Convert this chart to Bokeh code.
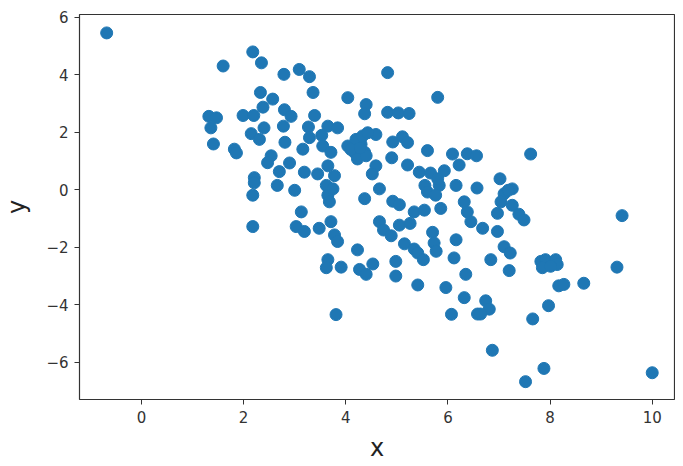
from bokeh.plotting import figure
from bokeh.models import Range1d, FixedTicker
from bokeh.embed import file_html
from bokeh.resources import INLINE

# Data
x_vals = [
    -0.68, 2.18, 2.35, 1.60, 2.79, 3.09, 3.29, 3.36, 2.33, 2.57,
    4.04, 4.40, 4.37, 2.38, 2.80, 2.93, 3.39, 1.32, 1.47, 1.99,
    2.20, 1.36, 2.40, 2.78, 3.27, 3.65, 3.84, 2.15, 2.31, 3.29,
    3.53, 2.81, 1.41, 1.82, 1.86, 3.16, 3.55, 3.71, 4.04, 4.17,
    4.30, 4.37, 4.23, 2.54, 2.47, 2.90, 2.70, 3.19, 3.45, 3.65,
    3.78, 2.21, 2.21, 2.66, 3.00, 3.62, 3.65, 3.68, 2.18, 4.37,
    3.13, 2.18, 4.82, 5.80, 4.82, 5.03, 5.24, 4.20, 4.33, 4.59,
    4.43, 4.92, 5.11, 5.21, 4.40, 4.90, 5.21, 5.60, 5.44, 5.66,
    5.93, 6.09, 6.22, 6.38, 6.56, 7.62, 4.59, 4.52, 4.66, 3.75,
    4.92, 5.05, 5.55, 5.60, 5.83, 5.76, 6.16, 6.57, 5.80, 7.02,
    7.26, 7.10, 7.04, 6.32, 6.38, 6.45, 5.86, 7.26, 7.39, 7.49,
    6.97, 5.34, 5.54, 4.66, 4.74, 5.05, 5.26, 4.89, 5.70, 6.68,
    6.97, 6.16, 5.15, 5.34, 5.41, 5.73, 5.77, 7.10, 7.22, 5.52,
    6.12, 6.35, 5.96, 6.32, 6.07, 6.58, 4.23, 3.65, 3.62, 3.91,
    4.27, 4.40, 4.53, 4.98, 4.98, 5.41, 3.81, 3.03, 3.19, 3.48,
    3.71, 3.78, 3.84, 9.41, 9.31, 10.00, 6.84, 7.20, 7.82, 7.91,
    8.11, 8.14, 7.85, 8.01, 8.17, 8.27, 8.66, 6.74, 6.81, 6.64,
    7.97, 7.66, 6.87, 7.88, 7.52, 7.18, 4.10, 4.28,
]
y_vals = [
    5.45, 4.79, 4.41, 4.30, 4.01, 4.18, 3.93, 3.38, 3.38, 3.15,
    3.20, 2.96, 2.64, 2.87, 2.78, 2.55, 2.58, 2.55, 2.50, 2.58,
    2.58, 2.15, 2.15, 2.21, 2.18, 2.21, 2.15, 1.95, 1.75, 1.81,
    1.89, 1.65, 1.59, 1.41, 1.28, 1.41, 1.52, 1.30, 1.52, 1.30,
    1.58, 1.30, 1.07, 1.18, 0.94, 0.93, 0.63, 0.61, 0.55, 0.83,
    0.49, 0.42, 0.24, 0.15, -0.02, 0.15, -0.19, -0.42, -0.19, -0.31,
    -0.77, -1.28, 4.07, 3.21, 2.69, 2.67, 2.65, 1.75, 1.87, 1.92,
    1.98, 1.66, 1.84, 1.64, 1.18, 1.11, 0.86, 1.36, 0.61, 0.58,
    0.66, 1.24, 0.86, 1.25, 1.18, 1.24, 0.83, 0.55, 0.03, 0.03,
    -0.40, -0.52, 0.15, -0.08, 0.15, -0.19, 0.15, 0.06, 0.38, 0.38,
    0.03, -0.14, -0.42, -0.42, -0.77, -1.11, -0.65, -0.54, -0.85, -1.05,
    -0.82, -0.77, -0.71, -1.11, -1.40, -1.23, -1.17, -1.60, -1.48, -1.34,
    -1.45, -1.74, -1.88, -2.06, -2.20, -1.85, -2.14, -1.98, -2.20, -2.43,
    -2.37, -2.94, -3.40, -3.75, -4.33, -4.32, -2.09, -2.43, -2.71, -2.69,
    -2.77, -2.94, -2.58, -2.49, -3.00, -3.31, -4.34, -1.28, -1.45, -1.34,
    -1.11, -1.57, -1.80, -0.90, -2.69, -6.36, -2.43, -2.81, -2.49, -2.43,
    -2.43, -2.60, -2.71, -2.66, -3.34, -3.29, -3.25, -3.86, -4.15, -4.32,
    -4.03, -4.49, -5.58, -6.21, -6.67, -0.02, 1.40, 1.45,
]

x_ticks = [0, 2, 4, 6, 8, 10]
y_ticks = [-6, -4, -2, 0, 2, 4, 6]
y_tick_labels = {-6: "\u22126", -4: "\u22124", -2: "\u22122", 0: "0", 2: "2", 4: "4", 6: "6"}

p = figure(width=675, height=464, output_backend="svg", toolbar_location=None,
           x_range=Range1d(-1.212, 10.436), y_range=Range1d(-7.29, 6.09),
           min_border_left=78, min_border_right=1, min_border_top=14, min_border_bottom=61)

p.scatter(x_vals, y_vals, size=12, fill_color="#1f77b4", line_color="#1f77b4")

p.xgrid.visible = False
p.ygrid.visible = False
p.outline_line_color = "#333333"
p.outline_line_width = 1.2

for ax in (p.xaxis[0], p.yaxis[0]):
    ax.axis_line_color = None
    ax.minor_tick_line_color = None
    ax.major_tick_in = 0
    ax.major_tick_out = 5
    ax.major_tick_line_color = "#333333"
    ax.major_label_text_font = "DejaVu Sans"
    ax.major_label_text_font_size = "15px"
    ax.major_label_text_color = "#333333"
    ax.axis_label_text_font = "DejaVu Sans"
    ax.axis_label_text_font_size = "24px"
    ax.axis_label_text_font_style = "normal"
    ax.axis_label_text_color = "#222222"
    ax.major_label_standoff = 6

p.xaxis[0].ticker = FixedTicker(ticks=x_ticks)
p.yaxis[0].ticker = FixedTicker(ticks=y_ticks)
p.yaxis[0].major_label_overrides = y_tick_labels
p.xaxis[0].axis_label = "x"
p.yaxis[0].axis_label = "y"
p.xaxis[0].axis_label_standoff = 8
p.yaxis[0].axis_label_standoff = 12

open("out.html", "w").write(file_html(p, INLINE))
